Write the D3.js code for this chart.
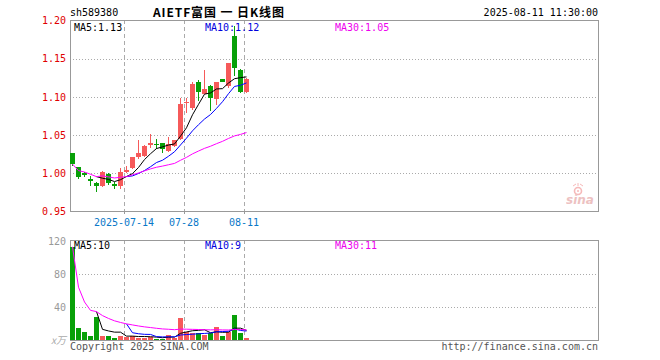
<!DOCTYPE html>
<html>
<head>
<meta charset="utf-8">
<script src="https://cdn.jsdelivr.net/npm/d3@7"></script>
<style>
body{margin:0;background:#fff}
text{font-family:"DejaVu Sans Mono","Liberation Mono",monospace;font-size:10px}
</style>
</head>
<body>
<svg id="chart" width="660" height="360"></svg>
<script>
// daily bars, sh589380
var dates = ['2025-07-01','2025-07-02','2025-07-03','2025-07-04','2025-07-07','2025-07-08','2025-07-09','2025-07-10','2025-07-11','2025-07-14',
             '2025-07-15','2025-07-16','2025-07-17','2025-07-18','2025-07-21','2025-07-22','2025-07-23','2025-07-24','2025-07-25','2025-07-28',
             '2025-07-29','2025-07-30','2025-07-31','2025-08-01','2025-08-04','2025-08-05','2025-08-06','2025-08-07','2025-08-08','2025-08-11'];
var open  = [1.026,1.008,1.000,0.993,0.987,0.983,0.999,0.986,0.983,1.002,1.007,1.021,1.022,1.037,1.039,1.040,1.029,1.036,1.045,1.092,1.085,1.119,1.104,1.114,1.097,1.123,1.114,1.180,1.135,1.106];
var high  = [1.027,1.008,1.002,0.997,0.988,1.003,1.001,0.988,1.007,1.009,1.021,1.044,1.037,1.051,1.045,1.040,1.047,1.044,1.099,1.098,1.119,1.122,1.135,1.115,1.120,1.123,1.144,1.193,1.136,1.125];
var low   = [1.010,0.992,0.995,0.983,0.975,0.982,0.985,0.980,0.979,1.001,1.006,1.019,1.021,1.033,1.032,1.027,1.028,1.035,1.044,1.079,1.083,1.094,1.104,1.081,1.089,1.119,1.111,1.128,1.105,1.105];
var close = [1.012,0.995,0.998,0.990,0.983,1.002,0.987,0.984,1.002,1.004,1.021,1.027,1.036,1.040,1.038,1.032,1.039,1.043,1.091,1.093,1.117,1.107,1.110,1.099,1.119,1.119,1.144,1.138,1.106,1.124];
var volume = [113,15.6,10.8,6,28.8,6,6,3.6,6,4.8,6,3.6,3.6,4.8,2.4,2.4,7.2,3.6,27.6,10.8,9.6,9.6,7.2,9.6,16.8,6,10.8,31.2,9.6,3.6]; // x万

var priceTicks = [1.20,1.15,1.10,1.05,1.00,0.95];
var volTicks = [120,80,40];
var dateTicks = [9,19,29];
var dateLabels = ['2025-07-14','07-28','08-11'];
var priceMaText = ['MA5:1.13','MA10:1.12','MA30:1.05'];
var volMaText = ['MA5:10','MA10:9','MA30:11'];

var red='#f65a5a', green='#08a008', grid='#aaa';
var maCols = ['#000','#0000ff','#ff00ff'];

var svg = d3.select('#chart');
var L=70, R=598;
var x = d3.scaleBand().domain(d3.range(88)).range([L,R]); // 6px slots
var yP = d3.scaleLinear().domain([0.95,1.20]).range([211.5,20.5]);
var yV = d3.scaleLinear().domain([0,120]).range([340.5,241]);

function ma(arr,n,expand){
    return arr.map(function(v,i){
        if (i<n-1 && !expand) return null;
        var s=arr.slice(Math.max(0,i-n+1),i+1);
        return d3.mean(s);
    });
}
var px = function(v){return Math.round(v)+0.5;};

// header
svg.append('text').attr('x',70).attr('y',16).text('sh589380');
svg.append('text').attr('x',153).attr('y',17).attr('textLength',131).attr('lengthAdjust','spacing')
   .style('font-family','"Noto Sans CJK SC"').style('font-size','12px').style('font-weight','bold')
   .text('AIETF富国 一 日K线图');
svg.append('text').attr('x',598).attr('y',16).attr('text-anchor','end').text('2025-08-11 11:30:00');

function panel(top,bottom,gridVals,yScale){
    var g=svg.append('g');
    g.selectAll('.h').data(gridVals).enter().append('line')
      .attr('x1',L).attr('x2',R).attr('y1',function(d){return px(yScale(d));}).attr('y2',function(d){return px(yScale(d));})
      .attr('stroke',grid).attr('stroke-dasharray','1,2');
    g.selectAll('.v').data(dateTicks).enter().append('line')
      .attr('x1',function(d){return x(d)+0.5;}).attr('x2',function(d){return x(d)+0.5;})
      .attr('y1',top).attr('y2',bottom).attr('stroke',grid).attr('stroke-dasharray','4,3');
    g.append('rect').attr('x',L+0.5).attr('y',top+0.5).attr('width',R-L).attr('height',bottom-top)
      .attr('fill','none').attr('stroke','#999');
    return g;
}

// price panel
panel(20,211,[1.15,1.10,1.05,1.00],yP);
var ya = svg.append('g').attr('transform','translate(70,0)')
   .call(d3.axisLeft(yP).tickValues(priceTicks).tickFormat(d3.format('.2f')).tickSize(0).tickPadding(4));
ya.select('.domain').remove();
ya.selectAll('text').attr('fill','#e00000').style('font-family','"DejaVu Sans Mono",monospace').style('font-size','10px');

svg.selectAll('.tk').data(dateTicks).enter().append('line')
   .attr('x1',function(d){return x(d)+0.5;}).attr('x2',function(d){return x(d)+0.5;})
   .attr('y1',211).attr('y2',214).attr('stroke','#999');
svg.selectAll('.dl').data(dateTicks).enter().append('text')
   .attr('x',function(d){return x(d);}).attr('y',226).attr('text-anchor','middle').attr('fill','#0a78c8')
   .text(function(d,i){return dateLabels[i];});

// watermark
var wm = svg.append('g').attr('opacity',0.55);
wm.append('circle').attr('cx',578).attr('cy',191).attr('r',3.5).attr('fill','none').attr('stroke','#f08080').attr('stroke-width',1.6);
wm.append('circle').attr('cx',578).attr('cy',191).attr('r',1).attr('fill','#f08080');
wm.append('path').attr('d','M573,186 L576,184 M583,186 L580,184 M578,186 L578,183').attr('stroke','#f08080');
wm.append('text').attr('x',566).attr('y',204).attr('fill','#e09090')
  .style('font-family','"DejaVu Sans"').style('font-size','12px').style('font-weight','bold').style('font-style','italic').text('sina');

var candles = svg.append('g');
candles.selectAll('.wick').data(close).enter().append('rect')
  .attr('x',function(d,i){return x(i)+2;}).attr('width',1)
  .attr('y',function(d,i){return Math.round(yP(high[i]));})
  .attr('height',function(d,i){return Math.max(1,Math.round(yP(low[i]))-Math.round(yP(high[i])));})
  .attr('fill',function(d,i){return d>=open[i]?red:green;});
candles.selectAll('.body').data(close).enter().append('rect')
  .attr('x',function(d,i){return x(i);}).attr('width',5)
  .attr('y',function(d,i){return Math.round(yP(Math.max(d,open[i])));})
  .attr('height',function(d,i){return Math.max(1,Math.round(yP(Math.min(d,open[i])))-Math.round(yP(Math.max(d,open[i]))));})
  .attr('fill',function(d,i){return d>=open[i]?red:green;});

var priceMa=[ma(close,5),ma(close,10),ma(close,30,true)];
var lineP = d3.line().defined(function(d){return d!=null;}).x(function(d,i){return x(i)+2.5;}).y(function(d){return yP(d);});
svg.selectAll('.mp').data(priceMa).enter().append('path').attr('d',lineP).attr('fill','none')
   .attr('stroke',function(d,i){return maCols[i];}).attr('stroke-width',1);

var maX=[74,205,335];
svg.selectAll('.mpt').data(priceMaText).enter().append('text').attr('x',function(d,i){return maX[i];}).attr('y',31)
   .attr('fill',function(d,i){return i==2?'#ee00ee':(i==1?'#0000dd':'#000');}).text(function(d){return d;});

// volume panel
panel(240,340,[80,40],yV);
var yb = svg.append('g').attr('transform','translate(70,0)')
   .call(d3.axisLeft(yV).tickValues(volTicks).tickSize(0).tickPadding(4));
yb.select('.domain').remove();
yb.selectAll('text').attr('fill','#999').style('font-family','"DejaVu Sans Mono",monospace').style('font-size','10px');
svg.append('text').attr('x',66).attr('y',344).attr('text-anchor','end').attr('fill','#aaa')
   .style('font-family','"Noto Sans CJK SC"').style('font-size','10px').style('font-style','italic').text('x万');

svg.append('g').selectAll('rect').data(volume).enter().append('rect')
  .attr('x',function(d,i){return x(i);}).attr('width',5)
  .attr('y',function(d){return Math.round(yV(d));})
  .attr('height',function(d){return 340-Math.round(yV(d));})
  .attr('fill',function(d,i){return close[i]>=open[i]?red:green;});

var volMa=[ma(volume,5),ma(volume,10),ma(volume,30,true)];
var lineV = d3.line().defined(function(d){return d!=null;}).x(function(d,i){return x(i)+2.5;}).y(function(d){return yV(d);});
svg.selectAll('.mv').data(volMa).enter().append('path').attr('d',lineV).attr('fill','none')
   .attr('stroke',function(d,i){return maCols[i];}).attr('stroke-width',1);
svg.selectAll('.mvt').data(volMaText).enter().append('text').attr('x',function(d,i){return maX[i];}).attr('y',249)
   .attr('fill',function(d,i){return i==2?'#ee00ee':(i==1?'#0000dd':'#000');}).text(function(d){return d;});

// footer
svg.append('text').attr('x',70).attr('y',350).attr('fill','#555').text('Copyright 2025 SINA.COM');
svg.append('text').attr('x',598).attr('y',350).attr('text-anchor','end').attr('fill','#555').text('http://finance.sina.com.cn');
</script>
</body>
</html>
